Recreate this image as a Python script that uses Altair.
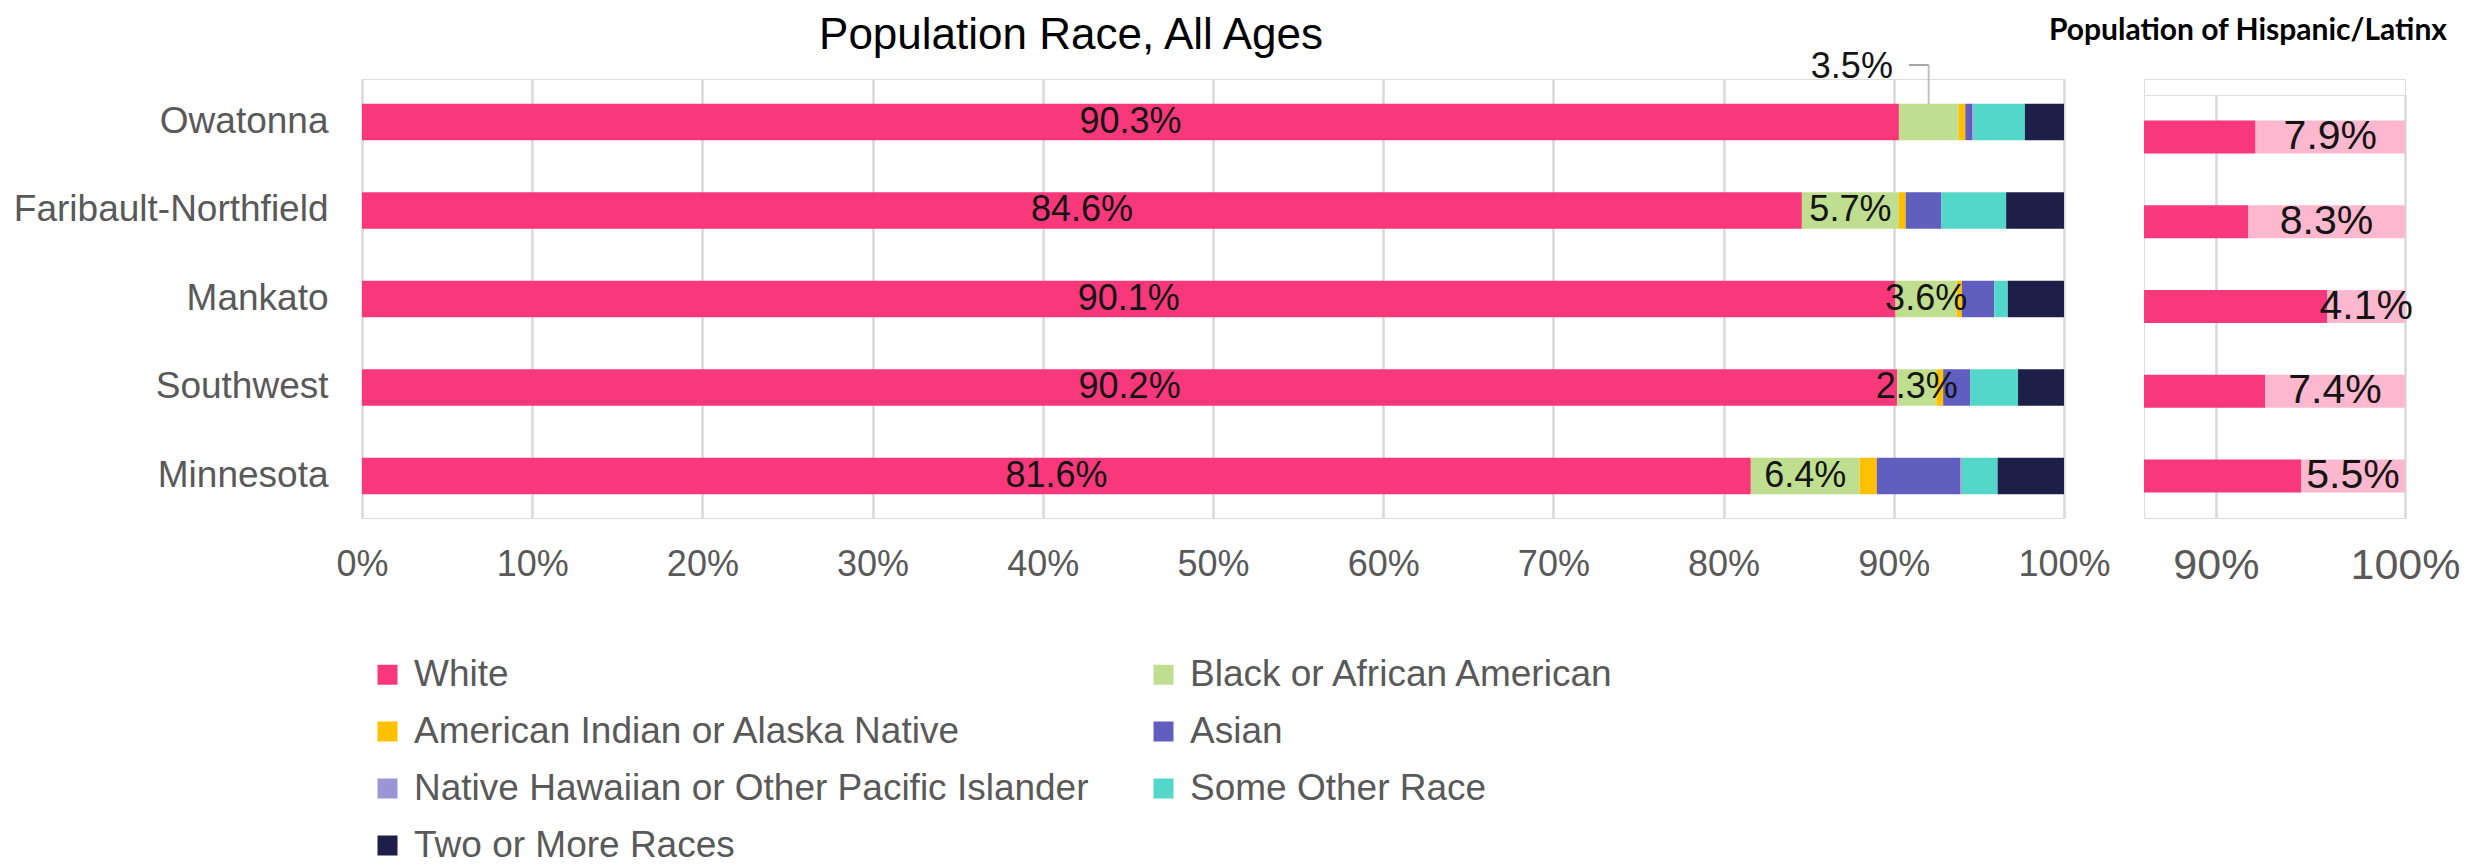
import altair as alt
import pandas as pd

regions = ["Owatonna", "Faribault-Northfield", "Mankato", "Southwest", "Minnesota"]
races = [
    "White",
    "Black or African American",
    "American Indian or Alaska Native",
    "Asian",
    "Native Hawaiian or Other Pacific Islander",
    "Some Other Race",
    "Two or More Races",
]
white = [90.3, 84.6, 90.1, 90.2, 81.6]
black = [3.5, 5.7, 3.6, 2.3, 6.4]
aian = [0.4, 0.4, 0.3, 0.4, 1.0]
asian = [0.4, 2.1, 1.9, 1.6, 4.9]
nhpi = [0.1, 0.0, 0.0, 0.0, 0.1]
other = [3.0, 3.8, 0.8, 2.8, 2.1]
two_more = [2.3, 3.4, 3.3, 2.7, 3.9]
hispanic = [7.9, 8.3, 4.1, 7.4, 5.5]
black_callout = [True, False, False, False, False]
x_ticks = [0, 10, 20, 30, 40, 50, 60, 70, 80, 90, 100]
hisp_ticks = [90, 100]

race_colors = ["#F8387A", "#C0DE8F", "#FFC000", "#605EBE", "#9B95D5", "#53D7C9", "#1E1F48"]
PINK = "#F8387A"
LIGHT_PINK = "#FDB7CF"
LABEL = "#141414"
AXIS_GRAY = "#595959"
GRID = "#D9D9D9"
LEADER = "#A6A6A6"
FONT = "Liberation Sans"

series = [white, black, aian, asian, nhpi, other, two_more]
rows = []
for i, reg in enumerate(regions):
    start = 0.0
    for k, race in enumerate(races):
        v = series[k][i]
        rows.append(dict(region=reg, race=race, order=k, start=start, end=start + v))
        start += v
df = pd.DataFrame(rows)

lab_rows = []
for i, reg in enumerate(regions):
    lab_rows.append(dict(region=reg, mid=white[i] / 2, text=f"{white[i]:.1f}%"))
    if not black_callout[i]:
        lab_rows.append(dict(region=reg, mid=white[i] + black[i] / 2, text=f"{black[i]:.1f}%"))
labels = pd.DataFrame(lab_rows)

call = pd.DataFrame([
    dict(region=regions[i], wend=white[i], lead=white[i] + black[i] / 2, text=f"{black[i]:.1f}%")
    for i in range(len(regions)) if black_callout[i]
])

# ---------------- main chart ----------------
yscale_main = alt.Scale(domain=regions, paddingInner=0.588, paddingOuter=0.274, align=0.51)

def ymain(axis=True):
    if axis:
        return alt.Y("region:N", sort=regions, title=None, scale=yscale_main,
                     axis=alt.Axis(domain=False, ticks=False, labelPadding=34, labelFontSize=37,
                                   labelColor=AXIS_GRAY, labelFont=FONT, labelLimit=0))
    return alt.Y("region:N", sort=regions, title=None, scale=yscale_main, bandPosition=0.5)

xaxis = alt.Axis(values=x_ticks, labelExpr="datum.value + '%'", grid=True, gridColor=GRID,
                 gridWidth=2.5, domain=False, ticks=False, labelPadding=29, labelFontSize=36,
                 labelColor=AXIS_GRAY, labelFont=FONT, labelFlush=False, title=None)
xscale = alt.Scale(domain=[0, 100], nice=False)

bars = alt.Chart(df).mark_bar().encode(
    x=alt.X("start:Q", scale=xscale, axis=xaxis),
    x2="end:Q",
    y=ymain(True),
    color=alt.Color("race:N", sort=races,
                    scale=alt.Scale(domain=races, range=race_colors),
                    legend=alt.Legend(orient="none", legendX=7, legendY=577, columns=2,
                                      direction="horizontal",
                                      symbolType="square", symbolSize=400, symbolStrokeWidth=0,
                                      labelFontSize=37, labelColor=AXIS_GRAY, labelFont=FONT,
                                      labelOffset=8, rowPadding=19, columnPadding=56,
                                      labelLimit=0, title=None, padding=0)),
    order=alt.Order("order:Q"),
)

texts = alt.Chart(labels).mark_text(fontSize=36, color=LABEL, font=FONT, baseline="middle").encode(
    x=alt.X("mid:Q", scale=xscale), y=ymain(False), text="text:N")

call_text = alt.Chart(call).mark_text(fontSize=36, color=LABEL, font=FONT, align="right",
                                       baseline="middle", dx=-6, dy=-54.5).encode(
    x=alt.X("wend:Q", scale=xscale), y=ymain(False), text="text:N")

lead_h = alt.Chart(call).mark_rule(color=LEADER, strokeWidth=2, yOffset=-57, xOffset=10).encode(
    x=alt.X("wend:Q", scale=xscale), x2="lead:Q", y=ymain(False))

lead_v = alt.Chart(call).mark_tick(color=LEADER, thickness=2, size=39, yOffset=-37.5,
                                   orient="vertical").encode(
    x=alt.X("lead:Q", scale=xscale), y=ymain(False))

main = alt.layer(bars, texts, call_text, lead_h, lead_v).properties(
    width=1702, height=439,
    title=alt.Title("Population Race, All Ages", anchor="middle", frame="group", dx=-142,
                    offset=-43.5, baseline="alphabetic", font=FONT, fontSize=44,
                    fontWeight="normal", color="#000000"),
)

# ---------------- Hispanic / Latinx panel ----------------
hdf = pd.DataFrame(dict(
    region=regions,
    nonhisp=[100 - h for h in hispanic],
    full=[100.0] * len(regions),
    mid=[100 - h / 2 for h in hispanic],
    text=[f"{h:.1f}%" for h in hispanic],
))

yscale_r = alt.Scale(domain=regions, paddingInner=0.611, paddingOuter=0.301, align=0.5)
xscale_r = alt.Scale(domain=[86.2, 100], nice=False, zero=False)
xaxis_r = alt.Axis(values=hisp_ticks, labelExpr="datum.value + '%'", grid=True, gridColor=GRID,
                   gridWidth=2.5, domain=False, ticks=False, labelPadding=26, labelFontSize=43,
                   labelColor=AXIS_GRAY, labelFont=FONT, labelFlush=False, title=None)

def yr():
    return alt.Y("region:N", sort=regions, title=None, scale=yscale_r, axis=None)

non_h = alt.Chart(hdf).mark_bar(color=PINK, clip=True).encode(
    x=alt.X("nonhisp:Q", scale=xscale_r, axis=xaxis_r), y=yr())
his_h = alt.Chart(hdf).mark_bar(color=LIGHT_PINK, clip=True).encode(
    x=alt.X("nonhisp:Q", scale=xscale_r), x2="full:Q", y=yr())
txt_h = alt.Chart(hdf).mark_text(fontSize=41, color=LABEL, font=FONT, baseline="middle").encode(
    x=alt.X("mid:Q", scale=xscale_r), y=yr(), text="text:N")

right = alt.layer(non_h, his_h, txt_h).properties(
    width=261, height=423,
    title=alt.Title("Population of Hispanic/Latinx", anchor="end", frame="group", dx=42,
                    offset=25, baseline="alphabetic", font="Lato", fontSize=30,
                    fontWeight="bold", color="#000000"),
)

spacer = alt.Chart(pd.DataFrame({"a": [0]})).mark_point(opacity=0).encode(
    x=alt.X("a:Q", axis=None), y=alt.Y("a:Q", axis=None)
).properties(width=261, height=16)

right_col = alt.vconcat(spacer, right, spacing=0, bounds="flush")

chart = alt.hconcat(main, right_col, spacing=80, bounds="flush").properties(
    padding={"left": 4, "top": 5, "right": 0, "bottom": 0}
).configure_view(stroke=None).configure(font=FONT)

chart.save("out.html", embed_options={"renderer": "svg", "actions": False})
